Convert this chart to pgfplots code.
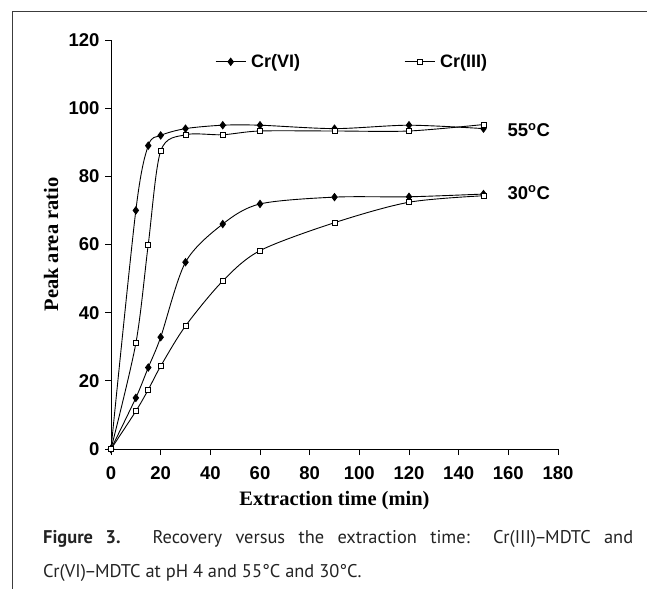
\documentclass[border=0pt]{standalone}
\usepackage{pgfplots}
\pgfplotsset{compat=1.18}
\usepackage{fontspec}
\setmainfont{Liberation Sans}
\newfontfamily\serifb{Liberation Serif}
\newfontfamily\capfont{PT Sans}
\definecolor{framegray}{RGB}{60,60,60}
\definecolor{capgray}{RGB}{35,35,35}
\newcommand{\dsh}{\kern-1.5bp–\kern-1.5bp}
\begin{document}
\begin{tikzpicture}
\useasboundingbox (0,0) rectangle (647bp,589bp);
\draw[framegray, line width=1bp] (12bp,0bp) -- (12bp,577bp) -- (647bp,577bp);
\begin{axis}[
  at={(111bp,140bp)}, anchor=south west,
  scale only axis, width=447bp, height=409bp,
  xmin=0, xmax=180, ymin=0, ymax=120,
  xtick={0,20,...,180}, ytick={0,20,...,120},
  axis x line*=bottom, axis y line*=left,
  axis line style={black, line width=0.8bp, -},
  tick style={black, line width=0.8bp},
  tick align=outside, major tick length=6bp,
  clip=false,
  /pgf/number format/assume math mode=true,
  ticklabel style={font=\fontsize{18.5bp}{20bp}\selectfont\bfseries},
  xticklabel style={yshift=-8bp},
  yticklabel style={xshift=-2bp},
  xlabel={Extraction time (min)},
  ylabel={Peak area ratio},
  label style={font=\fontsize{20.5bp}{22bp}\selectfont\serifb\bfseries},
  xlabel style={at={(axis description cs:0.5,-0.127)}, anchor=center},
  ylabel style={at={(axis description cs:-0.134,0.5)}, anchor=center, rotate=0},
  legend columns=2,
  legend style={draw=none, fill=none, at={(axis cs:41.9,113.6)}, anchor=west,
    inner sep=0pt, font=\fontsize{18bp}{20bp}\selectfont\bfseries,
    /tikz/every even column/.append style={column sep=102bp},
    /tikz/every odd column/.append style={column sep=3bp}},
  legend image code/.code={\draw[mark repeat=2,mark phase=2,#1] plot coordinates {(0bp,0bp) (15bp,0bp) (30bp,0bp)};},
  every axis plot/.append style={black, line width=0.9bp, smooth, tension=0.5},
]
% Cr(VI) 55C
\addplot[mark=diamond*, mark size=3.6bp, mark options={fill=black, solid}] coordinates {
(0,0) (10,70) (15,89) (20,92) (30,94) (45,95) (60,95) (90,94) (120,95) (150,94)};
\addlegendentry{Cr(VI)}
% Cr(III) 55C
\addplot[mark=square*, mark size=2.5bp, mark options={fill=white, solid, line width=0.7bp}] coordinates {
(0,0) (10,31) (15,60) (20,87.4) (30,92.2) (45,92.2) (60,93.3) (90,93.3) (120,93.3) (150,95.2)};
\addlegendentry{Cr(III)}
% Cr(VI) 30C
\addplot[forget plot, mark=diamond*, mark size=3.6bp, mark options={fill=black, solid}] coordinates {
(0,0) (10,15) (15,23.9) (20,32.8) (30,54.8) (45,66) (60,71.9) (90,73.9) (120,74) (150,74.8)};
% Cr(III) 30C
\addplot[forget plot, mark=square*, mark size=2.5bp, mark options={fill=white, solid, line width=0.7bp}] coordinates {
(0,0) (10,11.1) (15,17.4) (20,24.3) (30,36.1) (45,49.3) (60,58.2) (90,66.4) (120,72.4) (150,74.3)};
\node[anchor=west, inner sep=0pt, font=\fontsize{18.5bp}{20bp}\selectfont\bfseries] at (axis cs:159.6,93.6) {55\textsuperscript{o}C};
\node[anchor=west, inner sep=0pt, font=\fontsize{18.5bp}{20bp}\selectfont\bfseries] at (axis cs:159.6,75.2) {30\textsuperscript{o}C};
\end{axis}
\node[anchor=base west, inner sep=0pt, text=capgray, font=\fontsize{18.4bp}{20bp}\selectfont\capfont] at (43bp,45bp)
  {\makebox[590bp][s]{\textbf{Figure 3.} Recovery versus the extraction time: Cr(III)\dsh MDTC and}};
\node[anchor=base west, inner sep=0pt, text=capgray, font=\fontsize{18.4bp}{20bp}\selectfont\capfont] at (43bp,12bp)
  {Cr(VI)\dsh MDTC at pH 4 and 55°C and 30°C.};
\end{tikzpicture}
\end{document}
